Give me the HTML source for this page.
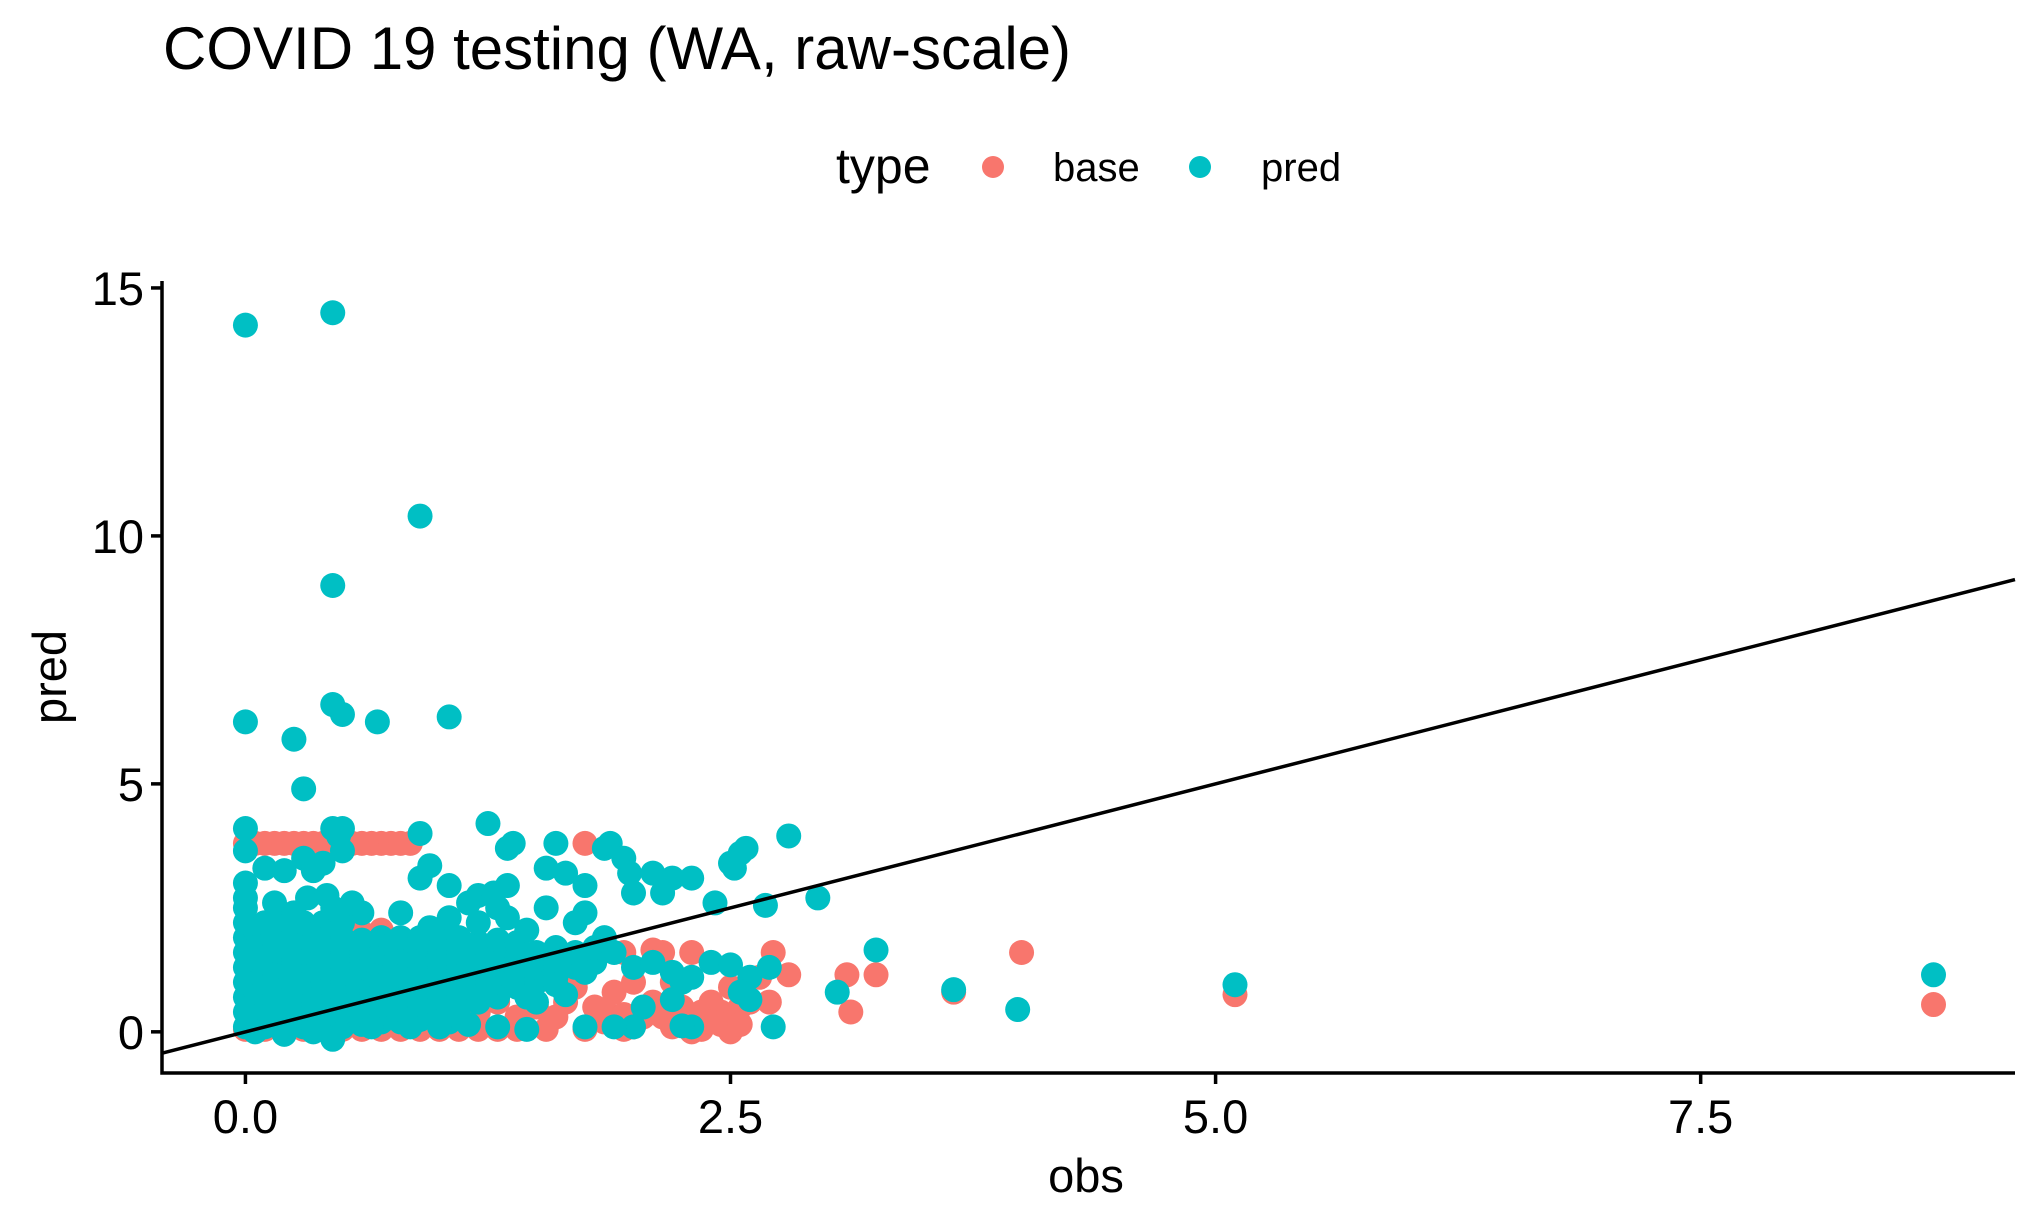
<!DOCTYPE html>
<html><head><meta charset="utf-8"><style>
html,body{margin:0;padding:0;background:#fff;}
svg{display:block;font-family:"Liberation Sans",Arial,sans-serif;}
</style></head><body>
<svg id="chart" width="2040" height="1228" viewBox="0 0 2040 1228" xmlns="http://www.w3.org/2000/svg">
<rect width="2040" height="1228" fill="#fff"/>
<text x="163" y="69" font-size="60" fill="#000">COVID 19 testing (WA, raw-scale)</text>
<g>
<text x="836" y="183" font-size="50">type</text>
<circle cx="993" cy="167" r="11" fill="#F8766D"/>
<text x="1053" y="181" font-size="40">base</text>
<circle cx="1200" cy="167" r="11" fill="#00BFC4"/>
<text x="1261" y="181" font-size="40">pred</text>
</g>
<g id="plot"></g>
<text x="1086" y="1192" font-size="47" text-anchor="middle">obs</text>
<text transform="translate(66,677) rotate(-90)" font-size="47" text-anchor="middle">pred</text>
</svg>
<script>
const xTicks = [0, 2.5, 5, 7.5];
const xTickLabels = ["0.0", "2.5", "5.0", "7.5"];
const yTicks = [0, 5, 10, 15];
const yTickLabels = ["0", "5", "10", "15"];
const xDomain = [-0.43, 9.12];
const yDomain = [-0.83, 15.14];
const refLine = [-0.43, 9.12];
const basePoints = [
[0,3.8],[0.05,3.8],[0.1,3.8],[0.15,3.8],[0.2,3.8],[0.25,3.8],[0.3,3.8],[0.35,3.8],[0.4,3.8],[0.55,3.8],[0.6,3.8],[0.65,3.8],[0.7,3.8],[0.75,3.8],[0.8,3.8],[0.85,3.8],[1.75,3.8],
[0,0.05],[0.1,0.05],[0.2,0.05],[0.3,0.05],[0.4,0.05],[0.5,0.05],[0.6,0.05],[0.7,0.05],[0.8,0.05],[0.9,0.05],[1.0,0.05],[1.1,0.05],[1.2,0.05],[1.3,0.05],[1.4,0.05],[1.55,0.05],[1.75,0.05],[1.95,0.05],[2.3,0.0],[2.35,0.05],[2.5,0.0],[2.2,0.1],
[1.4,0.3],[1.5,0.5],[1.6,0.3],[1.65,0.6],[1.7,0.9],[1.8,0.5],[1.85,0.2],[1.9,0.8],[2.0,1.0],[2.05,0.3],[2.1,0.6],[2.15,1.6],[2.2,1.0],[2.25,0.5],[2.3,0.2],[2.35,0.4],[2.4,0.6],[2.45,0.4],[2.5,0.3],[2.55,0.5],[2.6,0.6],[2.65,1.1],[2.3,1.6],[1.95,1.6],[2.1,1.65],[1.4,0.9],[1.3,0.6],[1.2,0.4],[1.5,1.0],[1.6,1.2],[1.75,1.3],[2.5,0.9],[2.45,0.15],[2.55,0.15],[2.0,0.1],[1.85,0.45],[1.95,0.35],[2.15,0.3],[2.4,0.2],
[0.5,1.0],[0.8,1.5],[1.0,1.7],[0.6,2.0],[0.7,2.05],[0.3,0.5],
[2.72,1.6],[2.7,0.6],[2.8,1.15],[3.1,1.15],[3.12,0.4],[3.25,1.15],[3.65,0.8],[4.0,1.6],[5.1,0.75],[8.7,0.55]
];
const predPoints = [
[0,0.1],[0,0.4],[0,0.7],[0,1.0],[0,1.3],[0,1.6],[0,1.9],[0,2.2],[0,2.5],
[0.05,0.25],[0.05,0.85],[0.05,1.45],[0.05,2.05],
[0.1,0.1],[0.1,0.4],[0.1,0.7],[0.1,1.0],[0.1,1.3],[0.1,1.6],[0.1,1.9],[0.1,2.2],
[0.15,0.55],[0.15,1.15],[0.15,1.75],
[0.2,0.1],[0.2,0.4],[0.2,0.7],[0.2,1.0],[0.2,1.3],[0.2,1.6],[0.2,1.9],[0.2,2.2],
[0.25,0.25],[0.25,0.85],[0.25,1.45],[0.25,2.05],
[0.3,0.1],[0.3,0.4],[0.3,0.7],[0.3,1.0],[0.3,1.3],[0.3,1.6],[0.3,1.9],[0.3,2.2],
[0.35,0.55],[0.35,1.15],[0.35,1.75],
[0.4,0.1],[0.4,0.4],[0.4,0.7],[0.4,1.0],[0.4,1.3],[0.4,1.6],[0.4,1.9],[0.4,2.2],
[0.45,0.25],[0.45,0.85],[0.45,1.45],[0.45,2.05],
[0.5,0.1],[0.5,0.4],[0.5,0.7],[0.5,1.0],[0.5,1.3],[0.5,1.6],[0.5,1.9],[0.5,2.2],
[0.55,0.55],[0.55,1.15],[0.55,1.75],
[0.6,0.15],[0.6,0.4],[0.6,0.7],[0.6,1.0],[0.6,1.3],[0.6,1.6],[0.6,1.85],
[0.65,0.85],[0.65,1.45],
[0.7,0.2],[0.7,0.4],[0.7,0.7],[0.7,1.0],[0.7,1.3],[0.7,1.6],[0.7,1.9],
[0.75,0.55],[0.75,1.15],[0.75,1.75],
[0.8,0.2],[0.8,0.45],[0.8,0.7],[0.8,1.0],[0.8,1.3],[0.8,1.6],[0.8,1.9],
[0.85,0.85],[0.85,1.45],
[0.9,0.25],[0.9,0.5],[0.9,0.7],[0.9,1.0],[0.9,1.3],[0.9,1.6],[0.9,1.9],
[0.95,0.55],[0.95,1.15],[0.95,1.75],
[1.0,0.4],[1.0,0.7],[1.0,1.0],[1.0,1.3],[1.0,1.6],[1.0,1.9],
[1.05,0.85],[1.05,1.45],
[1.1,0.5],[1.1,0.7],[1.1,1.0],[1.1,1.3],[1.1,1.6],[1.1,1.9],
[1.15,1.15],[1.15,1.75],
[1.2,0.6],[1.2,0.9],[1.2,1.2],[1.2,1.5],[1.2,1.8],
[1.25,1.05],[1.25,1.65],
[1.3,0.7],[1.3,1.0],[1.3,1.3],[1.3,1.6],[1.3,1.85],
[1.35,1.15],[1.35,1.45],
[1.4,0.9],[1.4,1.2],[1.4,1.5],[1.4,1.8],
[1.45,1.05],[1.45,1.35],
[1.5,1.0],[1.5,1.3],[1.5,1.6],
[1.55,1.2],[1.55,1.45],
[1.6,1.1],[1.6,1.4],[1.6,1.7],
[1.7,1.3],[1.7,1.6],[1.8,1.4],[1.8,1.7],
[0.45,-0.15],[0.2,-0.05],[0.05,0.0],[0.35,0.0],[0.65,0.1],[0.85,0.1],[1.05,0.2],[1.15,0.15],[1.3,0.1],[1.45,0.05],[1.0,0.1],
[1.6,1.3],[1.75,1.2],[1.9,1.6],[2.0,1.3],[2.1,1.4],[2.2,1.2],[2.3,1.1],[2.4,1.4],[2.5,1.35],[2.6,1.1],[2.7,1.3],[2.55,0.8],[2.6,0.65],[2.72,0.1],[2.3,0.1],[2.25,0.12],[2.0,0.1],[1.9,0.1],[1.75,0.1],[1.5,0.6],[1.45,0.7],[1.65,0.75],[1.6,0.95],[2.05,0.5],[2.2,0.65],[2.25,1.0],
[3.25,1.65],[3.05,0.8],[3.65,0.85],[3.98,0.45],[5.1,0.95],[8.7,1.15],
[0,14.25],[0.45,14.5],[0.9,10.4],[0.45,9.0],[0,6.25],[0.45,6.6],[0.5,6.4],[0.68,6.25],[1.05,6.35],[0.25,5.9],[0.3,4.9],[0,4.1],[0.45,4.1],[0.5,4.1],[0.48,3.95],[0.9,4.0],[1.25,4.2],[1.35,3.7],[1.38,3.8],[1.6,3.8],[1.85,3.7],[1.88,3.8],[2.55,3.6],[2.58,3.7],[2.5,3.4],[2.52,3.3],[2.8,3.95],[0,3.65],[0.5,3.65],[0.1,3.3],[0.2,3.25],[0.3,3.5],[0.4,3.4],[0.35,3.25],[0.95,3.35],[0.9,3.1],[1.05,2.95],[1.35,2.95],[1.55,3.3],[1.65,3.2],[1.75,2.95],[1.95,3.5],[1.98,3.2],[2.1,3.2],[2.2,3.1],[2.3,3.1],[2.0,2.8],[2.15,2.8],[2.42,2.6],[2.68,2.55],[2.95,2.7],[0,3.0],[0,2.7],[0.15,2.6],[0.32,2.7],[0.42,2.75],[1.2,2.75],[1.28,2.8],[1.15,2.6],[1.3,2.5],[1.55,2.5],[1.2,2.2],[1.35,2.3],[0.6,2.4],[0.8,2.4],[0.45,2.5],[0.55,2.6],[1.05,2.3],[0.95,2.1],[1.45,2.05],[1.7,2.2],[1.85,1.9],[1.75,2.4],[0.25,2.4]
];
const NS = "http://www.w3.org/2000/svg";
const X0 = 162, X1 = 2015, Y0 = 1073, Y1 = 281;
const R = 12.5;
function sx(v){ return X0 + (v - xDomain[0]) / (xDomain[1] - xDomain[0]) * (X1 - X0); }
function sy(v){ return Y0 - (v - yDomain[0]) / (yDomain[1] - yDomain[0]) * (Y0 - Y1); }
const plot = document.getElementById('plot');
function mk(tag, attrs){ const e = document.createElementNS(NS, tag); for (const k in attrs) e.setAttribute(k, attrs[k]); return e; }
const gBase = mk('g', {});


plot.appendChild(gBase);
basePoints.forEach(p => {
  const c = mk('circle', {cx: sx(p[0]), cy: sy(p[1]), r: R, fill: '#F8766D'});
  
  
  gBase.appendChild(c);
});
const gPred = mk('g', {});


plot.appendChild(gPred);
predPoints.forEach(p => {
  const c = mk('circle', {cx: sx(p[0]), cy: sy(p[1]), r: R, fill: '#00BFC4'});
  
  
  gPred.appendChild(c);
});
const ln = mk('line', {x1: sx(refLine[0]), y1: sy(refLine[0]), x2: sx(refLine[1]), y2: sy(refLine[1]), stroke: '#000', 'stroke-width': 3.5});


plot.appendChild(ln);
const ax = mk('path', {d: `M${X0},${Y1} L${X0},${Y0} L${X1},${Y0}`, fill: 'none', stroke: '#000', 'stroke-width': 3.5});


plot.appendChild(ax);
xTicks.forEach((t, i) => {
  const tk = mk('line', {x1: sx(t), y1: Y0, x2: sx(t), y2: Y0 + 11, stroke: '#000', 'stroke-width': 3.5});
  
  
  plot.appendChild(tk);
  const tx = mk('text', {x: sx(t), y: Y0 + 60, 'font-size': 47, 'text-anchor': 'middle', fill: '#000'});
  tx.textContent = xTickLabels[i];
  
  
  plot.appendChild(tx);
});
yTicks.forEach((t, i) => {
  const tk = mk('line', {x1: X0 - 11, y1: sy(t), x2: X0, y2: sy(t), stroke: '#000', 'stroke-width': 3.5});
  
  
  plot.appendChild(tk);
  const tx = mk('text', {x: X0 - 18, y: sy(t) + 17, 'font-size': 47, 'text-anchor': 'end', fill: '#000'});
  tx.textContent = yTickLabels[i];
  
  
  plot.appendChild(tx);
});
</script>
</body></html>
